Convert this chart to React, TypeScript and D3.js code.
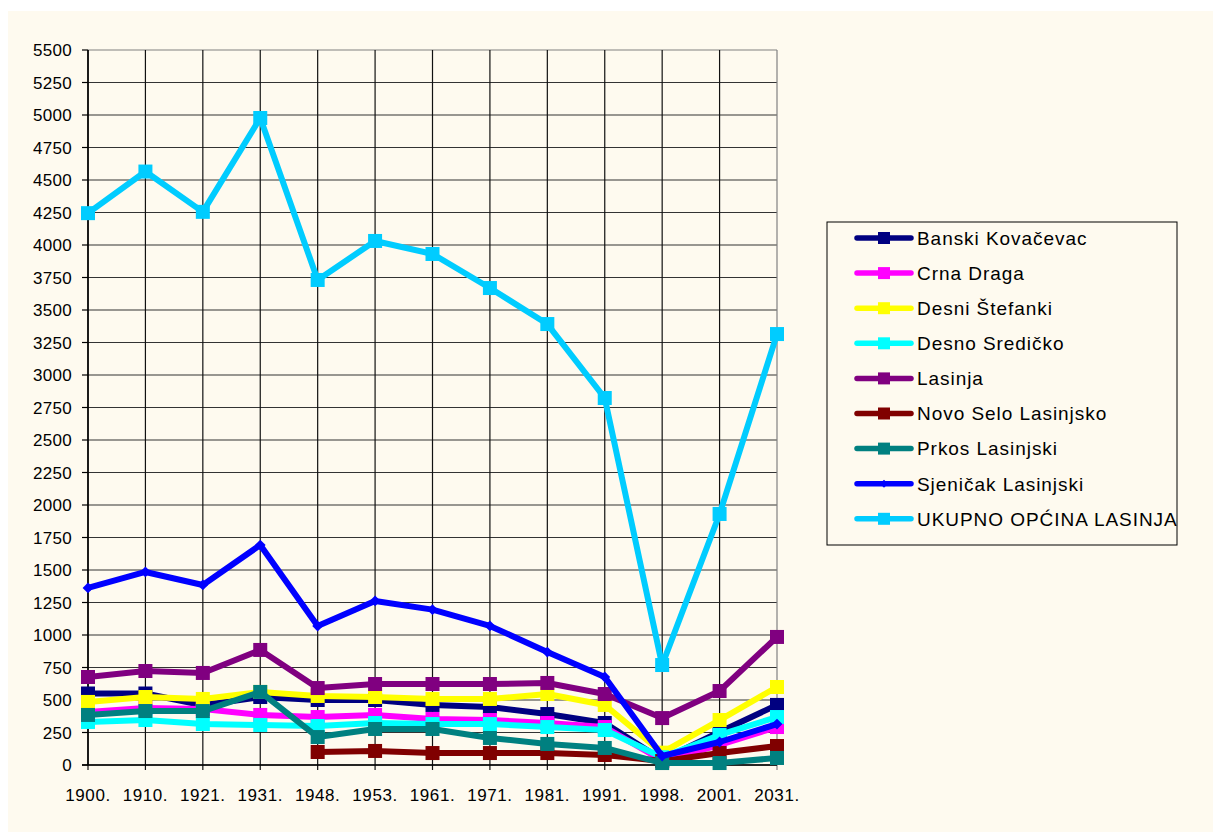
import React from 'react';
import * as d3 from 'd3';

// census years (category axis)
const years = ['1900.', '1910.', '1921.', '1931.', '1948.', '1953.', '1961.', '1971.', '1981.', '1991.', '1998.', '2001.', '2031.'];

const yTicks = d3.range(0, 5501, 250);

// population per settlement
const banskiKovacevac = [550, 550, 460, 523, 500, 500, 462, 446, 392, 323, 40, 254, 462];
const crnaDraga = [408, 438, 431, 385, 369, 385, 354, 346, 323, 292, 35, 154, 292];
const desniStefanki = [485, 523, 508, 562, 531, 523, 508, 508, 546, 462, 95, 346, 600];
const desnoSredicko = [331, 346, 315, 308, 300, 323, 315, 315, 292, 269, 60, 231, 369];
const lasinja = [677, 723, 708, 885, 592, 623, 623, 623, 631, 546, 361, 569, 985];
const novoSelo = [null, null, null, null, 100, 108, 92, 92, 92, 77, 30, 92, 146];
const prkosLasinjski = [385, 415, 415, 562, 215, 277, 277, 208, 162, 131, 15, 15, 54];
const sjenicak = [1362, 1485, 1385, 1692, 1069, 1262, 1195, 1070, 869, 677, 69, 177, 315];
const ukupno = [4245, 4565, 4255, 4977, 3731, 4031, 3931, 3669, 3392, 2823, 769, 1931, 3315];

const series = [
  { name: 'Banski Kovačevac', color: '#000080', marker: 'square', values: banskiKovacevac },
  { name: 'Crna Draga', color: '#FF00FF', marker: 'square', values: crnaDraga },
  { name: 'Desni Štefanki', color: '#FFFF00', marker: 'square', values: desniStefanki },
  { name: 'Desno Sredičko', color: '#00FFFF', marker: 'square', values: desnoSredicko },
  { name: 'Lasinja', color: '#800080', marker: 'square', values: lasinja },
  { name: 'Novo Selo Lasinjsko', color: '#800000', marker: 'square', values: novoSelo },
  { name: 'Prkos Lasinjski', color: '#008080', marker: 'square', values: prkosLasinjski },
  { name: 'Sjeničak Lasinjski', color: '#0000FF', marker: 'diamond', values: sjenicak },
  { name: 'UKUPNO OPĆINA LASINJA', color: '#00CCFF', marker: 'square', values: ukupno },
];

const W = 1213;
const H = 824;
const plot = { left: 80, right: 769, top: 42, bottom: 757 };
const legend = { x: 819, y: 214, w: 350, h: 323 };
const font = 'Arial, "Liberation Sans", sans-serif';

const Marker = ({ type, x, y, color, size }) => {
  if (type === 'diamond') {
    const r = size * 0.45;
    return <path d={`M${x},${y - r}L${x + r},${y}L${x},${y + r}L${x - r},${y}Z`} fill={color} />;
  }
  return <rect x={x - size / 2} y={y - size / 2} width={size} height={size} fill={color} />;
};

const App = () => {
  const x = d3.scalePoint().domain(years).range([plot.left, plot.right]).padding(0);
  const y = d3.scaleLinear().domain([0, 5500]).range([plot.bottom, plot.top]);

  const line = d3.line()
    .defined(d => d[1] != null)
    .x(d => x(d[0]))
    .y(d => y(d[1]));

  return (
    <svg width={W} height={H} style={{ display: 'block' }}>
      <rect x={0} y={3} width={W} height={H - 3} fill="#FEFAEF" />

      {/* horizontal grid */}
      {yTicks.map(t => (
        <line key={'h' + t} x1={plot.left} x2={plot.right} y1={y(t)} y2={y(t)}
          stroke={t === 5500 ? '#808080' : '#333'} strokeWidth={1.2} />
      ))}
      {/* vertical grid */}
      {years.map(yr => (
        <line key={'v' + yr} x1={x(yr)} x2={x(yr)} y1={plot.top} y2={plot.bottom + 5}
          stroke={yr === years[years.length - 1] ? '#808080' : '#111'} strokeWidth={1.2} />
      ))}
      {/* axes */}
      <line x1={plot.left} x2={plot.left} y1={plot.top} y2={plot.bottom} stroke="#000" strokeWidth={1.5} />
      <line x1={plot.left - 6} x2={plot.right} y1={plot.bottom} y2={plot.bottom} stroke="#000" strokeWidth={1.5} />
      {yTicks.map(t => (
        <g key={'yt' + t}>
          <line x1={plot.left - 6} x2={plot.left} y1={y(t)} y2={y(t)} stroke="#000" strokeWidth={1.2} />
          <text x={plot.left - 16} y={y(t)} dy="0.36em" textAnchor="end" fontFamily={font} fontSize={17} letterSpacing={0.3} fill="#000">{t}</text>
        </g>
      ))}
      {years.map(yr => (
        <text key={'xt' + yr} x={x(yr)} y={793} textAnchor="middle" fontFamily={font} fontSize={17} letterSpacing={0.6} fill="#000">{yr}</text>
      ))}

      {/* series */}
      {series.map(s => {
        const pts = years.map((yr, i) => [yr, s.values[i]]);
        return (
          <g key={s.name}>
            <path d={line(pts)} fill="none" stroke={s.color} strokeWidth={6} strokeLinejoin="round" />
            {pts.filter(p => p[1] != null).map(p => (
              <Marker key={p[0]} type={s.marker} x={x(p[0])} y={y(p[1])} color={s.color} size={s.marker === 'diamond' ? 12 : 14} />
            ))}
          </g>
        );
      })}

      {/* legend */}
      <rect x={legend.x} y={legend.y} width={legend.w} height={legend.h} fill="#FEFAEF" stroke="#000" strokeWidth={1} />
      {series.map((s, i) => {
        const ly = legend.y + 16 + i * 35.1;
        return (
          <g key={'lg' + s.name}>
            <line x1={849} x2={903} y1={ly} y2={ly} stroke={s.color} strokeWidth={5.5} strokeLinecap="round" />
            <Marker type={s.marker} x={876} y={ly} color={s.color} size={s.marker === 'diamond' ? 9 : 12} />
            <text x={909} y={ly} dy="0.36em" fontFamily={font} fontSize={19} letterSpacing={0.95} fill="#000">{s.name}</text>
          </g>
        );
      })}
    </svg>
  );
};

export default App;
